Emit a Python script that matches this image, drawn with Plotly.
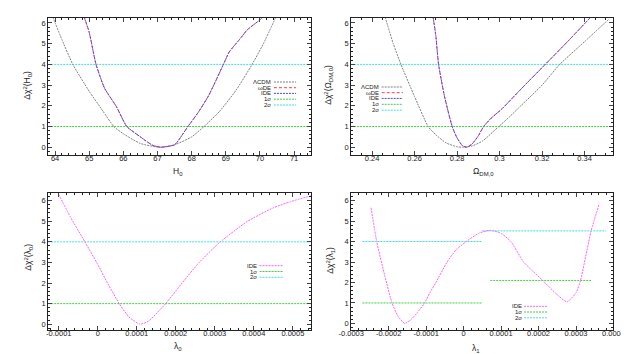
import plotly.graph_objects as go

# ---- top left: H0 ----
h0_lcdm = [63.93, 64.2, 64.52, 65.0, 65.4, 65.72, 66.0, 66.5, 67.05, 67.5, 68.0, 68.36, 68.8, 69.3, 69.77, 70.1, 70.47]
chi_h0_lcdm = [6.3, 5.2, 4.0, 2.7, 1.75, 1.0, 0.65, 0.18, 0.0, 0.12, 0.5, 1.0, 1.7, 2.75, 4.0, 5.0, 6.3]
h0_ide = [64.85, 65.0, 65.2, 65.45, 65.8, 66.1, 66.5, 66.85, 67.1, 67.5, 67.89, 68.2, 68.5, 68.93, 69.1, 69.4, 69.63, 70.0, 70.1]
chi_h0_ide = [6.3, 5.55, 4.0, 2.85, 1.95, 1.0, 0.5, 0.1, 0.0, 0.12, 1.0, 1.7, 2.5, 4.0, 4.6, 5.2, 5.67, 6.15, 6.3]

# ---- top right: Omega_DM,0 ----
om_lcdm = [0.2461, 0.25, 0.2536, 0.26, 0.2664, 0.27, 0.275, 0.28, 0.283, 0.287, 0.292, 0.2996, 0.305, 0.31, 0.32, 0.3283, 0.34, 0.3516]
chi_om_lcdm = [6.3, 5.0, 4.0, 2.45, 1.0, 0.6, 0.2, 0.02, 0.0, 0.06, 0.3, 1.0, 1.5, 2.0, 3.0, 4.0, 5.1, 6.2]
om_ide = [0.2687, 0.27, 0.2713, 0.274, 0.2777, 0.28, 0.2825, 0.2845, 0.287, 0.29, 0.2925, 0.296, 0.3011, 0.31, 0.3215, 0.332, 0.3426]
chi_om_ide = [6.3, 5.4, 4.0, 2.5, 1.0, 0.45, 0.08, 0.0, 0.15, 0.55, 1.0, 1.4, 1.85, 2.8, 4.0, 5.1, 6.25]

# ---- bottom left: lambda_0 ----
lam0 = [-0.0001, -0.00007, -0.000033, -0.000003, 0.000025, 0.000055, 0.00008, 0.000108, 0.00013, 0.000174, 0.000216, 0.00026, 0.000314, 0.000384, 0.00045, 0.000494, 0.00055]
chi_lam0 = [6.3, 5.2, 4.0, 3.0, 2.0, 1.0, 0.35, 0.0, 0.15, 1.0, 2.0, 3.0, 4.0, 5.0, 5.65, 5.95, 6.25]

# ---- bottom right: lambda_1 ----
lam1 = [-0.000247, -0.000232, -0.00021, -0.000191, -0.000175, -0.000157, -0.00014, -0.000125, -0.000104,
        -0.00009, -0.000074, -0.000044, -0.00002, 0.000007, 0.00004, 0.000071, 0.0001, 0.000126, 0.00016,
        0.000185, 0.000211, 0.00025, 0.000276, 0.0003, 0.000312, 0.00034, 0.000362]
chi_lam1 = [5.65, 4.0, 2.3, 1.0, 0.35, 0.0, 0.2, 0.5, 1.0, 1.5, 2.0, 3.0, 3.6, 4.0, 4.4, 4.55, 4.4, 4.0, 3.0,
            2.55, 2.1, 1.4, 1.05, 1.5, 2.1, 4.5, 5.84]
lam1_sig_left = [-0.00027, 0.00005]
lam1_sig1_right = [0.000071, 0.00034]
lam1_sig2_right = [0.00005, 0.00038]
sig1_right_level = 2.1
sig2_right_level = 4.52

# tick labels
h0_ticks = [64, 65, 66, 67, 68, 69, 70, 71]
om_ticks = [0.24, 0.26, 0.28, 0.3, 0.32, 0.34]
lam0_ticks = [-0.0001, 0, 0.0001, 0.0002, 0.0003, 0.0004, 0.0005]
lam0_text = ["-0.0001", "0", "0.0001", "0.0002", "0.0003", "0.0004", "0.0005"]
lam1_ticks = [-0.0003, -0.0002, -0.0001, 0, 0.0001, 0.0002, 0.0003, 0.0004]
lam1_text = ["-0.0003", "-0.0002", "-0.0001", "0", "0.0001", "0.0002", "0.0003", "0.0004"]
chi_ticks = [0, 1, 2, 3, 4, 5, 6]

W, H = 629, 354
C_LCDM = "#808080"
C_WDE = "#ff4040"
C_IDE = "#4848ff"
C_S1 = "#40d040"
C_S2 = "#40e0e0"
C_MAG = "#ff60ff"
DOT = "2px,1px"
DASH = "3px,2px"
INK = "#222"
FONT = "Liberation Sans, Arial, sans-serif"


def px(x):
    return x / W


def py(y):
    return 1 - y / H


fig = go.Figure()


def line(x, y, ax, color, dash=DOT, width=1):
    fig.add_trace(go.Scatter(x=x, y=y, xaxis="x" + ax, yaxis="y" + ax, mode="lines",
                             line=dict(color=color, dash=dash, width=width, shape="spline", smoothing=0.5),
                             showlegend=False, hoverinfo="skip"))


# top left
line([63.8, 71.5], [1, 1], "", C_S1)
line([63.8, 71.5], [4, 4], "", C_S2)
line(h0_lcdm, chi_h0_lcdm, "", C_LCDM)
line(h0_ide, chi_h0_ide, "", C_WDE, DASH)
line(h0_ide, chi_h0_ide, "", C_IDE, DOT)
# top right
line([0.2302, 0.3536], [1, 1], "2", C_S1)
line([0.2302, 0.3536], [4, 4], "2", C_S2)
line(om_lcdm, chi_om_lcdm, "2", C_LCDM)
line(om_ide, chi_om_ide, "2", C_WDE, DASH)
line(om_ide, chi_om_ide, "2", C_IDE, DOT)
# bottom left
line([-0.000127, 0.000547], [1, 1], "3", C_S1)
line([-0.000127, 0.000547], [4, 4], "3", C_S2)
line(lam0, chi_lam0, "3", C_MAG)
# bottom right
line(lam1_sig_left, [1, 1], "4", C_S1)
line(lam1_sig_left, [4, 4], "4", C_S2)
line(lam1_sig1_right, [sig1_right_level] * 2, "4", C_S1)
line(lam1_sig2_right, [sig2_right_level] * 2, "4", C_S2)
line(lam1, chi_lam1, "4", C_MAG)


def xax(dom, rng, tv, tt, dt, anchor):
    return dict(domain=dom, range=rng, tickvals=tv, ticktext=tt, anchor=anchor,
                ticks="inside", ticklen=4, mirror="allticks", showline=True, linecolor=INK,
                linewidth=1, showgrid=False, zeroline=False, tickfont=dict(size=7.5, color=INK),
                ticklabelstandoff=-4,
                minor=dict(dtick=dt, tick0=0, ticks="inside", ticklen=2, tickcolor=INK))


def yax(dom, rng, anchor):
    return dict(domain=dom, range=rng, tickvals=chi_ticks, anchor=anchor,
                ticks="inside", ticklen=4, mirror="allticks", showline=True, linecolor=INK,
                linewidth=1, showgrid=False, zeroline=False, tickfont=dict(size=7.5, color=INK),
                minor=dict(dtick=0.2, tick0=0, ticks="inside", ticklen=2, tickcolor=INK))


xl = [px(28.3), px(301.7)]
xr = [px(343.3), px(616)]
yt = [py(146.7), py(10)]
yb = [py(322), py(185)]

fig.update_layout(
    width=W, height=H, margin=dict(l=0, r=0, t=0, b=0),
    paper_bgcolor="white", plot_bgcolor="white", font=dict(family=FONT),
    xaxis=xax(xl, [63.8, 71.5], h0_ticks, [str(v) for v in h0_ticks], 0.2, "y"),
    yaxis=yax(yt, [-0.36, 6.24], "x"),
    xaxis2=xax(xr, [0.2302, 0.3536], om_ticks, [str(v) for v in om_ticks], 0.005, "y2"),
    yaxis2=yax(yt, [-0.36, 6.24], "x2"),
    xaxis3=xax(xl, [-0.000127, 0.000547], lam0_ticks, lam0_text, 0.00002, "y3"),
    yaxis3=yax(yb, [-0.28, 6.37], "x3"),
    xaxis4=xax(xr, [-0.0003, 0.0004], lam1_ticks, lam1_text, 0.00002, "y4"),
    yaxis4=yax(yb, [-0.32, 6.37], "x4"),
)

# axis titles placed like gnuplot's
titles = [
    ("H<sub>0</sub>", 163, 163, 0), ("Ω<sub>DM,0</sub>", 481, 163, 0),
    ("λ<sub>0</sub>", 163, 338, 0), ("λ<sub>1</sub>", 473, 340, 0),
    ("Δχ<sup>2</sup>(H<sub>0</sub>)", 7, 77, -90), ("Δχ<sup>2</sup>(Ω<sub>DM,0</sub>)", 320, 77, -90),
    ("Δχ<sup>2</sup>(λ<sub>0</sub>)", 7, 249, -90), ("Δχ<sup>2</sup>(λ<sub>1</sub>)", 321, 252, -90),
]
for text, tx, ty, ang in titles:
    fig.add_annotation(x=px(tx), y=py(ty), xref="paper", yref="paper", text=text, textangle=ang,
                       showarrow=False, xanchor="center", yanchor="middle", borderpad=0,
                       font=dict(size=8.5, color=INK))


# gnuplot-style keys: text right-aligned, then a sample line
def key(entries, text_right, sample, rows):
    for (label, color, dash), yrow in zip(entries, rows):
        fig.add_annotation(x=px(text_right), y=py(yrow), xref="paper", yref="paper", text=label,
                           showarrow=False, xanchor="right", yanchor="middle", borderpad=0,
                           font=dict(size=6, color=INK))
        fig.add_shape(type="line", xref="paper", yref="paper", x0=px(sample[0]), x1=px(sample[1]),
                      y0=py(yrow), y1=py(yrow), line=dict(color=color, dash=dash, width=1))


five = [("ΛCDM", C_LCDM, DOT), ("ωDE", C_WDE, DASH), ("IDE", C_IDE, DOT),
        ("1σ", C_S1, DOT), ("2σ", C_S2, DOT)]
three = [("IDE", C_MAG, DOT), ("1σ", C_S1, DOT), ("2σ", C_S2, DOT)]
key(five, 261, (263, 286), [74, 79.7, 85.4, 91.2, 97])
key(five, 373.5, (375, 397), [79, 84.7, 90.4, 96.3, 102.2])
key(three, 246.5, (248, 273), [257.7, 263.5, 269.3])
key(three, 521.5, (523, 547), [298.3, 304, 309.8])

fig.write_html("out.html")
